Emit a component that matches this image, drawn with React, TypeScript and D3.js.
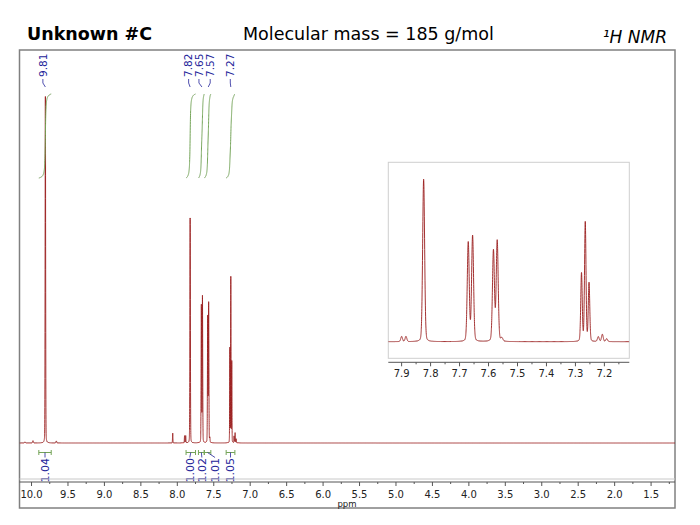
import React from 'react';
import * as d3 from 'd3';

// ---------- data ----------
const TITLE = 'Unknown #C';
const SUBTITLE = 'Molecular mass = 185 g/mol';
const NUCLEUS = '¹H NMR';
const AXIS_TITLE = 'ppm';

// peak list (ppm, relative height, line width in ppm)
const PEAK_PPM = [10.09, 9.98, 9.81, 9.66, 8.063, 7.9, 7.885, 7.824, 7.67, 7.655, 7.583, 7.57, 7.554, 7.279, 7.266, 7.253, 7.221, 7.207, 7.192];
const PEAK_HEIGHT = [0.5, 1.0, 154, 0.9, 4.4, 3.2, 3.2, 100, 61, 65, 56, 62, 2, 42, 73.5, 36, 3, 4.5, 1.8];
const PEAK_WIDTH = [0.012, 0.012, 0.008, 0.012, 0.006, 0.007, 0.007, 0.008, 0.008, 0.008, 0.008, 0.008, 0.008, 0.006, 0.006, 0.006, 0.007, 0.007, 0.007];

const PEAK_LABELS = ['9.81', '7.82', '7.65', '7.57', '7.27'];
const PEAK_LABEL_PPM = [9.81, 7.824, 7.662, 7.576, 7.266];

const INTEGRAL_FROM = [9.9, 7.88, 7.71, 7.63, 7.33];
const INTEGRAL_TO = [9.73, 7.75, 7.63, 7.54, 7.21];
const INTEGRAL_VALUES = ['1.04', '1.00', '1.02', '1.01', '1.05'];

const MAIN_TICKS = [10.0, 9.5, 9.0, 8.5, 8.0, 7.5, 7.0, 6.5, 6.0, 5.5, 5.0, 4.5, 4.0, 3.5, 3.0, 2.5, 2.0, 1.5];
const INSET_TICKS = [7.9, 7.8, 7.7, 7.6, 7.5, 7.4, 7.3, 7.2];

// ---------- layout ----------
const FRAME = { x0: 19.5, x1: 675, y0: 50, y1: 508 };
const MAIN_DOMAIN: [number, number] = [10.165, 1.172];
const INSET = { x0: 388.3, x1: 629.3, y0: 162.3, y1: 358.3, axisY: 362.3 };
const INSET_DOMAIN: [number, number] = [7.946, 7.114];
const LABEL_NUDGE = [-2.5, -1.5, -3, 2, -0.5];
const INT_LABEL_NUDGE = [0, -1, 0.5, 7.5, 0];
const LORENTZ_FRACTION = 0.15;

const RED = '#9a1c1c';
const GREEN = '#74a458';
const NAVY = '#25259a';
const FONT = '"DejaVu Sans", Verdana, sans-serif';

function spectrum(p: number) {
  let s = 0;
  for (let i = 0; i < PEAK_PPM.length; i++) {
    const u2 = (4 * (p - PEAK_PPM[i]) * (p - PEAK_PPM[i])) / (PEAK_WIDTH[i] * PEAK_WIDTH[i]);
    const g = Math.exp(-Math.LN2 * u2);
    const l = 1 / (1 + u2);
    s += PEAK_HEIGHT[i] * ((1 - LORENTZ_FRACTION) * g + LORENTZ_FRACTION * l);
  }
  return s;
}

function samplePoints(lo: number, hi: number) {
  const set = new Set<number>();
  d3.range(lo, hi, 0.004).forEach((p) => set.add(+p.toFixed(5)));
  PEAK_PPM.forEach((c) => {
    d3.range(c - 0.06, c + 0.06, 0.0004).forEach((p) => {
      if (p >= lo && p <= hi) set.add(+p.toFixed(5));
    });
  });
  set.add(lo);
  set.add(hi);
  return Array.from(set).sort((a, b) => b - a);
}

export default function App() {
  const x = d3.scaleLinear().domain(MAIN_DOMAIN).range([FRAME.x0, FRAME.x1]);
  const y = d3.scaleLinear().domain([0, 100]).range([443, 218]);
  const xi = d3.scaleLinear().domain(INSET_DOMAIN).range([INSET.x0, INSET.x1]);
  const yi = d3.scaleLinear().domain([0, 100]).range([341.7, 179.3]);

  const mainPts = samplePoints(MAIN_DOMAIN[1], MAIN_DOMAIN[0]).map((p) => [p, spectrum(p)] as [number, number]);
  const insetPts = samplePoints(INSET_DOMAIN[1], INSET_DOMAIN[0]).map((p) => [p, spectrum(p)] as [number, number]);

  const mainLine = d3.line<[number, number]>().x((d) => x(d[0])).y((d) => y(d[1]))(mainPts) || '';
  const insetLine = d3.line<[number, number]>().x((d) => xi(d[0])).y((d) => yi(d[1]))(insetPts) || '';

  // integral curves
  const intBottom = 178;
  const intTop = 94;
  const wb = 0.011;
  const integrals = INTEGRAL_FROM.map((from, k) => {
    const to = INTEGRAL_TO[k];
    const idx = PEAK_PPM.map((c, i) => i).filter((i) => PEAK_PPM[i] <= from && PEAK_PPM[i] >= to);
    const F = (p: number) =>
      idx.reduce((s, i) => {
        const a = PEAK_HEIGHT[i] * PEAK_WIDTH[i];
        return s + a * (Math.atan((2 * (from - PEAK_PPM[i])) / wb) - Math.atan((2 * (p - PEAK_PPM[i])) / wb));
      }, 0);
    const total = F(to);
    const pts = d3.range(0, 201).map((j) => {
      const p = from + ((to - from) * j) / 200;
      return [x(p), intBottom - ((intBottom - intTop) * F(p)) / total] as [number, number];
    });
    return d3.line()(pts) || '';
  });

  const mainMinor = d3.range(MAIN_TICKS.length - 1).map((i) => (MAIN_TICKS[i] + MAIN_TICKS[i + 1]) / 2).concat([MAIN_TICKS[MAIN_TICKS.length - 1] - 0.25]);
  const insetMinor = d3.range(INSET_TICKS.length - 1).map((i) => (INSET_TICKS[i] + INSET_TICKS[i + 1]) / 2).concat([INSET_TICKS[INSET_TICKS.length - 1] - 0.05]);

  const axisY = 482;

  return (
    <svg width={700} height={525} style={{ position: 'absolute', left: 0, top: 0, background: '#fff' }} fontFamily={FONT}>
      <defs>
        <clipPath id="frameClip">
          <rect x={FRAME.x0} y={FRAME.y0} width={FRAME.x1 - FRAME.x0} height={axisY - 2 - FRAME.y0} />
        </clipPath>
        <clipPath id="insetClip">
          <rect x={INSET.x0} y={INSET.y0} width={INSET.x1 - INSET.x0} height={INSET.y1 - INSET.y0} />
        </clipPath>
      </defs>

      {/* titles */}
      <text x={27} y={39.5} fontSize={17.5} fontWeight="bold" fill="#000">{TITLE}</text>
      <text x={243} y={39.5} fontSize={17.5} fill="#000">{SUBTITLE}</text>
      <text x={667} y={42.5} fontSize={17} fontStyle="italic" textAnchor="end" fill="#000">{NUCLEUS}</text>

      {/* frame */}
      <rect x={FRAME.x0} y={FRAME.y0} width={FRAME.x1 - FRAME.x0} height={FRAME.y1 - FRAME.y0} fill="#fff" stroke="#808080" strokeWidth={1.5} />

      {/* main spectrum */}
      <g clipPath="url(#frameClip)">
        <path d={mainLine} fill="none" stroke={RED} strokeWidth={0.9} strokeLinejoin="round" />
      </g>

      {/* integral curves */}
      {integrals.map((d, k) => (
        <path key={'ic' + k} d={d} fill="none" stroke={GREEN} strokeWidth={1} />
      ))}

      {/* peak labels */}
      {PEAK_LABELS.map((lab, k) => {
        const px = x(PEAK_LABEL_PPM[k]);
        const lx = px + LABEL_NUDGE[k];
        return (
          <g key={'pl' + k}>
            <text transform={`translate(${lx},77) rotate(-90)`} fontSize={10.5} fill={NAVY} dy="0.35em" textAnchor="start">{lab}</text>
            <line x1={lx} y1={79} x2={lx} y2={83} stroke={NAVY} strokeWidth={0.8} />
            <line x1={lx} y1={83} x2={px} y2={87} stroke={NAVY} strokeWidth={0.8} />
          </g>
        );
      })}

      {/* integral brackets and values */}
      {INTEGRAL_FROM.map((from, k) => {
        const a = x(from);
        const b = x(INTEGRAL_TO[k]);
        const c = (a + b) / 2;
        const lx = c + INT_LABEL_NUDGE[k];
        return (
          <g key={'ib' + k}>
            <line x1={a} y1={452.5} x2={b} y2={452.5} stroke={GREEN} strokeWidth={1} />
            <line x1={a} y1={450} x2={a} y2={455} stroke={GREEN} strokeWidth={1} />
            <line x1={b} y1={450} x2={b} y2={455} stroke={GREEN} strokeWidth={1} />
            <line x1={c} y1={452.5} x2={lx} y2={457.5} stroke={NAVY} strokeWidth={0.8} />
            <text transform={`translate(${lx},458) rotate(-90)`} fontSize={11} fill={NAVY} dy="0.36em" textAnchor="end">{INTEGRAL_VALUES[k]}</text>
          </g>
        );
      })}

      {/* main axis */}
      <line x1={FRAME.x0} y1={479} x2={FRAME.x1} y2={479} stroke="#c8c8c8" strokeWidth={1} />
      <line x1={FRAME.x0} y1={axisY} x2={FRAME.x1} y2={axisY} stroke="#555" strokeWidth={1} />
      {MAIN_TICKS.map((t) => (
        <g key={'mt' + t}>
          <line x1={x(t)} y1={axisY} x2={x(t)} y2={axisY + 4} stroke="#555" strokeWidth={1} />
          <text x={x(t)} y={497.5} fontSize={10} textAnchor="middle" fill="#222">{t.toFixed(1)}</text>
        </g>
      ))}
      {mainMinor.map((t) => (
        <line key={'mm' + t} x1={x(t)} y1={axisY} x2={x(t)} y2={axisY + 2} stroke="#555" strokeWidth={1} />
      ))}
      <text x={347} y={506.5} fontSize={8.5} textAnchor="middle" fill="#222">{AXIS_TITLE}</text>

      {/* inset */}
      <rect x={INSET.x0} y={INSET.y0} width={INSET.x1 - INSET.x0} height={INSET.y1 - INSET.y0} fill="#fff" stroke="#cfcfcf" strokeWidth={1} />
      <g clipPath="url(#insetClip)">
        <path d={insetLine} fill="none" stroke={RED} strokeWidth={0.9} strokeLinejoin="round" />
      </g>
      <line x1={INSET.x0} y1={INSET.axisY} x2={INSET.x1} y2={INSET.axisY} stroke="#555" strokeWidth={1} />
      {INSET_TICKS.map((t) => (
        <g key={'it' + t}>
          <line x1={xi(t)} y1={INSET.axisY} x2={xi(t)} y2={INSET.axisY + 4} stroke="#555" strokeWidth={1} />
          <text x={xi(t)} y={377} fontSize={10} textAnchor="middle" fill="#222">{t.toFixed(1)}</text>
        </g>
      ))}
      {insetMinor.map((t) => (
        <line key={'im' + t} x1={xi(t)} y1={INSET.axisY} x2={xi(t)} y2={INSET.axisY + 2} stroke="#555" strokeWidth={1} />
      ))}
    </svg>
  );
}
